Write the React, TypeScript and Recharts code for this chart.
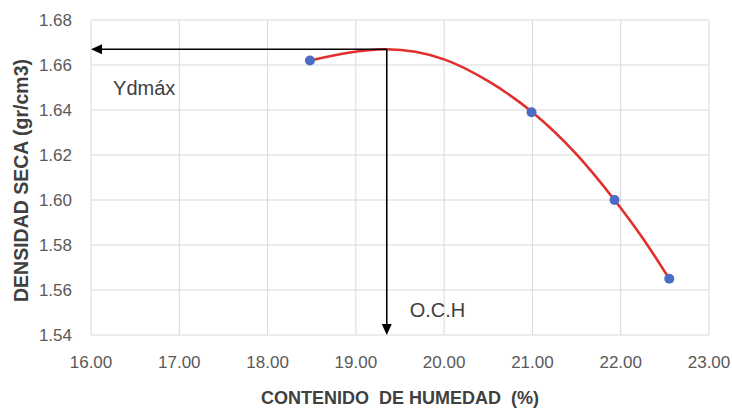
import React from 'react';
import {
  ComposedChart,
  Line,
  Scatter,
  XAxis,
  YAxis,
  CartesianGrid,
  ReferenceLine,
  ReferenceDot,
  Label,
} from 'recharts';

// Measured points (moisture %, dry density g/cm3)
const pointX = [18.48, 20.99, 21.93, 22.55];
const pointY = [1.662, 1.639, 1.6, 1.565];

// Trend curve
const trendX = [18.48, 19.35, 20.0, 20.5, 21.0, 21.5, 21.93, 22.25, 22.55];
const trendY = [1.662, 1.667, 1.6625, 1.6528, 1.639, 1.6203, 1.6, 1.583, 1.565];

// Axis ticks
const xTicks = [16, 17, 18, 19, 20, 21, 22, 23];
const yTicks = [1.54, 1.56, 1.58, 1.6, 1.62, 1.64, 1.66, 1.68];

// Optimum values
const ydMax = 1.667;
const och = 19.35;

// Annotation anchors
const ydLabelAt = { x: 16.25, y: 1.65 };
const ochLabelAt = { x: 19.61, y: 1.551 };

const points = pointX.map((x, i) => ({ x, y: pointY[i] }));
const trend = trendX.map((x, i) => ({ x, y: trendY[i] }));

const FONT = "'Liberation Sans', Arial, sans-serif";

const Arrow = (props: any) => {
  const { x1, y1, x2, y2 } = props;
  const dx = x2 - x1;
  const dy = y2 - y1;
  const len = Math.sqrt(dx * dx + dy * dy) || 1;
  const ux = dx / len;
  const uy = dy / len;
  const hl = 11;
  const hw = 5;
  const bx = x2 - ux * hl;
  const by = y2 - uy * hl;
  const px = -uy;
  const py = ux;
  return (
    <g>
      <line x1={x1} y1={y1} x2={bx} y2={by} stroke="#000" strokeWidth={1.6} />
      <polygon
        points={`${x2},${y2} ${bx + px * hw},${by + py * hw} ${bx - px * hw},${by - py * hw}`}
        fill="#000"
      />
    </g>
  );
};

const textShape = (txt: string) => (props: any) => (
  <text
    x={props.cx}
    y={props.cy}
    dy="0.36em"
    textAnchor="start"
    fontSize={20}
    fontFamily={FONT}
    fill="#404040"
  >
    {txt}
  </text>
);

export default function App() {
  return (
    <div style={{ position: 'absolute', left: 0, top: 0, background: '#fff' }}>
      <ComposedChart
        width={732}
        height={410}
        margin={{ top: 20, right: 23, left: 0, bottom: 0 }}
        style={{ fontFamily: FONT }}
      >
        <CartesianGrid stroke="#d9d9d9" strokeWidth={1} />
        <XAxis
          type="number"
          dataKey="x"
          domain={[16, 23]}
          ticks={xTicks}
          allowDataOverflow
          tickFormatter={(v: number) => v.toFixed(2)}
          axisLine={false}
          tickLine={false}
          tickSize={0}
          tickMargin={21}
          height={75}
          tick={{ fontSize: 17, fill: '#595959', fontFamily: FONT }}
        >
          <Label
            content={(p: any) => {
              const vb = p.viewBox;
              return (
                <text
                  x={vb.x + vb.width / 2}
                  y={vb.y + vb.height - 6}
                  textAnchor="middle"
                  fontSize={18}
                  fontWeight="bold"
                  fontFamily={FONT}
                  fill="#404040"
                  style={{ whiteSpace: 'pre' }}
                >
                  {'CONTENIDO  DE HUMEDAD  (%)'}
                </text>
              );
            }}
          />
        </XAxis>
        <YAxis
          type="number"
          dataKey="y"
          domain={[1.54, 1.68]}
          ticks={yTicks}
          allowDataOverflow
          tickFormatter={(v: number) => v.toFixed(2)}
          axisLine={false}
          tickLine={false}
          tickSize={0}
          tickMargin={19}
          width={91}
          tick={{ fontSize: 17, fill: '#595959', fontFamily: FONT }}
        >
          <Label
            content={(p: any) => {
              const vb = p.viewBox;
              const cx = 21;
              const cy = vb.y + vb.height / 2 + 3;
              return (
                <text
                  x={cx}
                  y={cy}
                  dy="0.36em"
                  transform={`rotate(-90 ${cx} ${cy})`}
                  textAnchor="middle"
                  fontSize={19.5}
                  fontWeight="bold"
                  fontFamily={FONT}
                  fill="#404040"
                >
                  DENSIDAD SECA (gr/cm3)
                </text>
              );
            }}
          />
        </YAxis>
        <Line
          data={trend}
          dataKey="y"
          type="monotone"
          stroke="#e0302e"
          strokeWidth={2.6}
          dot={false}
          activeDot={false}
          isAnimationActive={false}
        />
        <Scatter
          data={points}
          dataKey="y"
          fill="#4a6cc4"
          shape={(p: any) => <circle cx={p.cx} cy={p.cy} r={5} fill="#4a6cc4" />}
          isAnimationActive={false}
        />
        <ReferenceLine
          segment={[
            { x: och, y: ydMax },
            { x: 16, y: ydMax },
          ]}
          ifOverflow="visible"
          shape={Arrow}
        />
        <ReferenceLine
          segment={[
            { x: och, y: ydMax },
            { x: och, y: 1.54 },
          ]}
          ifOverflow="visible"
          shape={Arrow}
        />
        <ReferenceDot
          x={ydLabelAt.x}
          y={ydLabelAt.y}
          r={0}
          ifOverflow="visible"
          shape={textShape('Ydmáx')}
        />
        <ReferenceDot
          x={ochLabelAt.x}
          y={ochLabelAt.y}
          r={0}
          ifOverflow="visible"
          shape={textShape('O.C.H')}
        />
      </ComposedChart>
    </div>
  );
}
